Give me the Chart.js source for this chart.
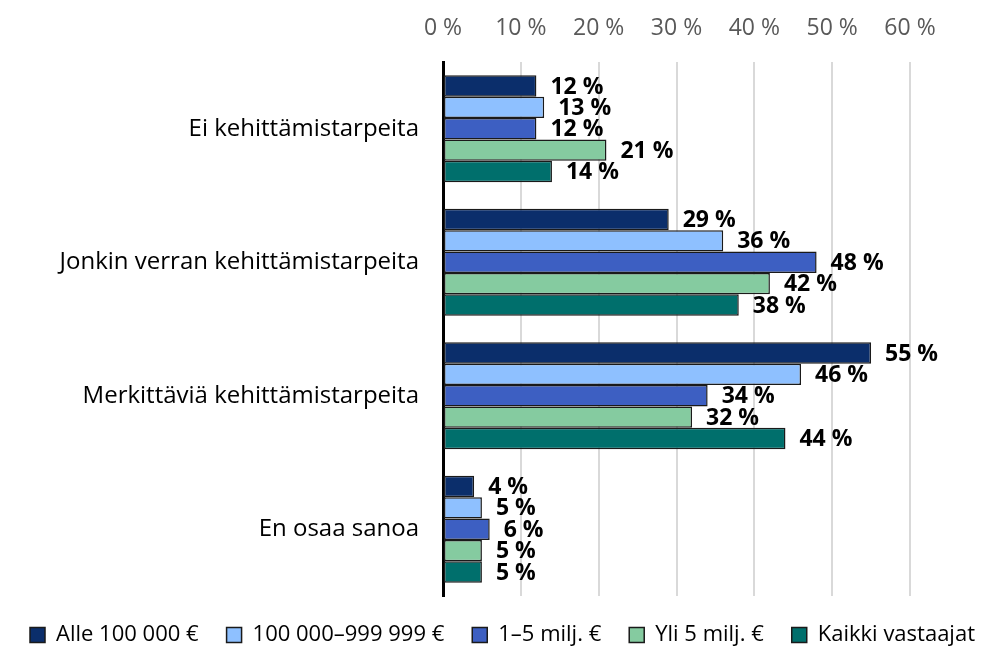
<!DOCTYPE html>
<html>
<head>
<meta charset="utf-8">
<script src="https://cdn.jsdelivr.net/npm/chart.js@4.4.1/dist/chart.umd.min.js"></script>
<style>
  html, body { margin: 0; padding: 0; background: #fff; }
  #wrap { width: 1005px; height: 650px; position: relative; }
</style>
</head>
<body>
<div id="wrap"><canvas id="chart"></canvas></div>
<script>
// Chart data
const categories = ['Ei kehittämistarpeita', 'Jonkin verran kehittämistarpeita', 'Merkittäviä kehittämistarpeita', 'En osaa sanoa'];
const seriesNames = ['Alle 100 000 €', '100 000–999 999 €', '1–5 milj. €', 'Yli 5 milj. €', 'Kaikki vastaajat'];
const alle100k = [12, 29, 55, 4];
const from100kTo1m = [13, 36, 46, 5];
const from1to5m = [12, 48, 34, 6];
const over5m = [21, 42, 32, 5];
const allRespondents = [14, 38, 44, 5];
const tickValues = [0, 10, 20, 30, 40, 50, 60];

const colors = ['#0b2e6b', '#8ec0ff', '#3d5fc2', '#85cba0', '#006f6c'];
const seriesValues = [alle100k, from100kTo1m, from1to5m, over5m, allRespondents];

const fontFamily = "'Open Sans', 'Noto Sans', sans-serif";

// draws the "12 %" labels at the bar ends
const valueLabels = {
    id: 'valueLabels',
    afterDatasetsDraw(chart) {
        const ctx = chart.ctx;
        ctx.save();
        ctx.font = 'bold 23px ' + fontFamily;
        ctx.fillStyle = '#000';
        ctx.textBaseline = 'middle';
        ctx.textAlign = 'left';
        chart.data.datasets.forEach((ds, i) => {
            const meta = chart.getDatasetMeta(i);
            meta.data.forEach((bar, j) => {
                ctx.fillText(ds.data[j] + ' %', bar.x + 14, bar.y + 1);
            });
        });
        ctx.restore();
    }
};

const ctx = document.getElementById('chart').getContext('2d');
const chart = new Chart(ctx, {
    type: 'bar',
    data: {
        labels: categories,
        datasets: seriesNames.map((name, i) => ({
            label: name,
            data: seriesValues[i],
            backgroundColor: colors[i],
            borderColor: '#1a1a1a',
            borderWidth: 1.5,
            borderSkipped: false,
            categoryPercentage: 0.8,
            barPercentage: 1.0
        }))
    },
    options: {
        indexAxis: 'y',
        responsive: true,
        maintainAspectRatio: false,
        animation: false,
        layout: {
            padding: { left: 0, right: 0, top: 0, bottom: -6 }
        },
        scales: {
            x: {
                position: 'top',
                min: 0,
                max: 60,
                afterBuildTicks: axis => { axis.ticks = tickValues.map(v => ({ value: v })); },
                afterFit: s => { s.height = 62; },
                ticks: {
                    color: '#595959',
                    font: { family: fontFamily, size: 23 },
                    padding: 20,
                    callback: v => v + ' %'
                },
                grid: { color: '#d9d9d9', lineWidth: 2, drawTicks: false },
                border: { display: false }
            },
            y: {
                afterFit: s => { s.width = 443; },
                ticks: {
                    color: '#000',
                    font: { family: fontFamily, size: 24 },
                    padding: 24
                },
                grid: { display: false, drawTicks: false },
                border: { display: true, color: '#000', width: 3 }
            },
            // empty axis that only reserves the space right of 60 %
            spacer: {
                axis: 'y',
                position: 'right',
                afterFit: s => { s.width = 95; },
                ticks: { display: false },
                grid: { display: false, drawTicks: false },
                border: { display: false }
            }
        },
        plugins: {
            legend: {
                position: 'bottom',
                labels: {
                    color: '#000',
                    font: { family: fontFamily, size: 22 },
                    boxWidth: 15,
                    boxHeight: 15,
                    padding: 28
                }
            },
            tooltip: { enabled: false }
        }
    },
    plugins: [valueLabels]
});
</script>
</body>
</html>
